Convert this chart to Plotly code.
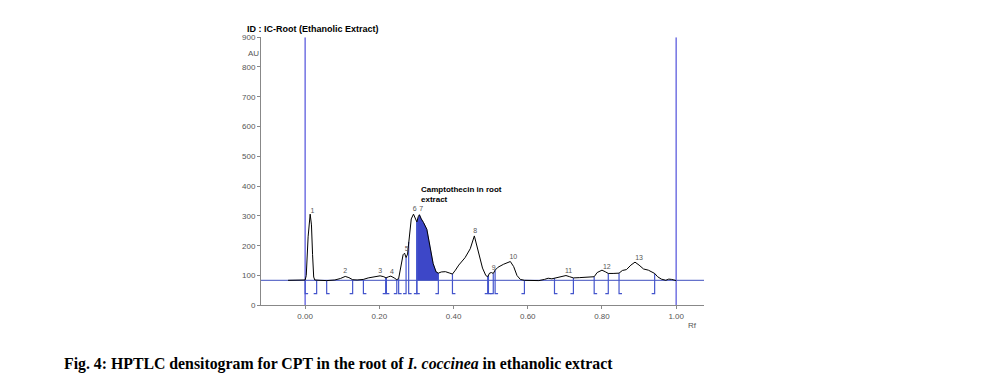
import numpy as np
import plotly.graph_objects as go

# ---- data (Rf, AU) ----
rf = [-0.046, -0.005, 0.000, 0.003, 0.008, 0.0135, 0.017, 0.020, 0.023, 0.026, 0.031, 0.040,
      0.058, 0.080, 0.095, 0.108, 0.118, 0.128, 0.140, 0.157, 0.170, 0.185, 0.202, 0.212,
      0.218, 0.225, 0.231, 0.240, 0.247, 0.252, 0.258, 0.264, 0.268, 0.272, 0.276, 0.281,
      0.286, 0.292, 0.297, 0.301, 0.305, 0.308, 0.313, 0.319, 0.328, 0.336, 0.345, 0.353,
      0.359, 0.367, 0.378, 0.390, 0.397, 0.405, 0.414, 0.431, 0.445, 0.456, 0.463, 0.470,
      0.478, 0.487, 0.492, 0.497, 0.502, 0.507, 0.512, 0.520, 0.535, 0.553, 0.562, 0.571,
      0.580, 0.591, 0.610, 0.630, 0.645, 0.655, 0.665, 0.672, 0.685, 0.703, 0.713, 0.723,
      0.740, 0.760, 0.779, 0.787, 0.800, 0.810, 0.817, 0.830, 0.846, 0.855, 0.866, 0.878,
      0.889, 0.900, 0.912, 0.925, 0.935, 0.942, 0.950, 0.960, 0.972, 0.980, 0.988, 0.995, 1.000]
au = [84, 84, 85, 100, 230, 306, 270, 170, 95, 85, 84, 84,
      83, 85, 90, 97, 93, 86, 85, 87, 92, 95, 99, 96,
      92, 96, 98, 92, 86, 90, 130, 170, 175, 160, 172, 240,
      290, 306, 290, 280, 298, 304, 290, 278, 255, 200, 140, 112,
      108, 112, 113, 108, 105, 118, 135, 160, 190, 233, 200, 160,
      125, 100, 96, 108, 110, 107, 118, 128, 138, 147, 130, 100,
      87, 84, 84, 83, 87, 91, 89, 91, 95, 100, 96, 92,
      93, 94, 96, 110, 118, 112, 107, 107, 108, 117, 120, 135,
      145, 135, 122, 118, 112, 107, 96, 88, 84, 88, 87, 84, 83]

baseline_au = 84
bracket_bottom = 39

peak_start = [0.000, 0.058, 0.157, 0.219, 0.252, 0.279, 0.301, 0.397, 0.494, 0.512, 0.672, 0.779, 0.846]
peak_end = [0.031, 0.128, 0.217, 0.247, 0.272, 0.301, 0.359, 0.492, 0.507, 0.591, 0.723, 0.817, 0.942]

peak_labels = ["1", "2", "3", "4", "5", "6", "7", "8", "9", "10", "11", "12", "13"]
label_rf = [0.020, 0.108, 0.202, 0.234, 0.274, 0.295, 0.313, 0.458, 0.508, 0.561, 0.710, 0.813, 0.900]
label_au = [317, 115, 113, 110, 188, 321, 321, 249, 126, 161, 115, 128, 157]

y_ticks = [0, 100, 200, 300, 400, 500, 600, 700, 800, 900]
x_ticks = [0.0, 0.2, 0.4, 0.6, 0.8, 1.0]
x_tick_text = ["0.00", "0.20", "0.40", "0.60", "0.80", "1.00"]

cpt_peak = 6  # index of peak 7 (camptothecin), filled

rf_a = np.array(rf)
au_a = np.array(au)

fig = go.Figure()

# filled CPT peak
s, e = peak_start[cpt_peak], peak_end[cpt_peak]
m = (rf_a > s) & (rf_a < e)
fx = [s] + list(rf_a[m]) + [e, e, s]
fy = [float(np.interp(s, rf_a, au_a))] + list(au_a[m]) + [float(np.interp(e, rf_a, au_a)), baseline_au, baseline_au]
fig.add_trace(go.Scatter(x=fx, y=fy, mode="lines", fill="toself", fillcolor="#3D47C8",
                         line=dict(color="#3D47C8", width=0.5), hoverinfo="skip"))

# baseline
fig.add_trace(go.Scatter(x=[-0.119, 1.075], y=[baseline_au, baseline_au], mode="lines",
                         line=dict(color="#3F4FBF", width=1), hoverinfo="skip"))

# start / end vertical lines
for xv in [0.0, 1.0]:
    fig.add_trace(go.Scatter(x=[xv, xv], y=[0, 900], mode="lines",
                             line=dict(color="#7272E2", width=1.5), hoverinfo="skip"))

# brackets
serif = 0.008
bx, by = [], []
for xs in peak_start:
    top = float(np.interp(xs, rf_a, au_a))
    bx += [xs, xs, xs + serif, None]
    by += [top, bracket_bottom, bracket_bottom, None]
for xe in peak_end:
    top = float(np.interp(xe, rf_a, au_a))
    bx += [xe, xe, xe - serif, None]
    by += [top, bracket_bottom, bracket_bottom, None]
fig.add_trace(go.Scatter(x=bx, y=by, mode="lines", line=dict(color="#4455CC", width=1.2),
                         hoverinfo="skip"))

# curve
fig.add_trace(go.Scatter(x=rf, y=au, mode="lines", line=dict(color="black", width=1),
                         hoverinfo="skip"))

# peak labels
fig.add_trace(go.Scatter(x=label_rf, y=label_au, mode="text", text=peak_labels,
                         textfont=dict(family="Liberation Sans", size=7, color="#555555"),
                         hoverinfo="skip"))

fig.add_annotation(x=0.307, y=371, xref="x", yref="y", xanchor="left", yanchor="middle",
                   text="<b>Camptothecin in root<br>extract</b>", showarrow=False, align="left",
                   font=dict(family="Liberation Sans", size=8, color="black"))

fig.add_annotation(x=245 / 988, y=1 - 26 / 387, xref="paper", yref="paper", xanchor="left",
                   yanchor="middle", text="<b>ID : IC-Root (Ethanolic Extract)</b>", showarrow=False,
                   font=dict(family="Liberation Sans", size=9, color="black"))
fig.add_annotation(x=253 / 988, y=1 - 51 / 387, xref="paper", yref="paper", xanchor="center",
                   yanchor="middle", text="AU", showarrow=False,
                   font=dict(family="Liberation Sans", size=8, color="#555555"))
fig.add_annotation(x=692 / 988, y=1 - 329 / 387, xref="paper", yref="paper", xanchor="center",
                   yanchor="middle", text="Rf", showarrow=False,
                   font=dict(family="Liberation Sans", size=8, color="#555555"))
fig.add_annotation(x=62 / 988, y=1 - 369 / 387, xref="paper", yref="paper", xanchor="left",
                   yanchor="middle",
                   text="<b>Fig. 4: HPTLC densitogram for CPT in the root of <i>I. coccinea</i> in ethanolic extract</b>",
                   showarrow=False, font=dict(family="Liberation Serif", size=15.8, color="black"))

fig.update_layout(
    width=988, height=387, margin=dict(l=0, r=0, t=0, b=0),
    paper_bgcolor="white", plot_bgcolor="white", showlegend=False,
    xaxis=dict(domain=[261 / 988, 704 / 988], range=[-0.119, 1.075], tickvals=x_ticks,
               ticktext=x_tick_text, showgrid=False, zeroline=False, showline=True,
               linecolor="#888888", linewidth=1, ticks="outside", ticklen=3, tickcolor="#888888",
               tickfont=dict(family="Liberation Sans", size=8, color="#555555")),
    yaxis=dict(domain=[1 - 308.5 / 387, 1 - 34 / 387], range=[0, 900], tickvals=y_ticks,
               showgrid=False, zeroline=False, showline=True, linecolor="#888888", linewidth=1,
               ticks="outside", ticklen=3, tickcolor="#888888",
               tickfont=dict(family="Liberation Sans", size=8, color="#555555")),
)

fig.write_html("out.html", config={"displayModeBar": False},
               post_script="document.body.style.margin='0';document.body.style.overflow='hidden';")
